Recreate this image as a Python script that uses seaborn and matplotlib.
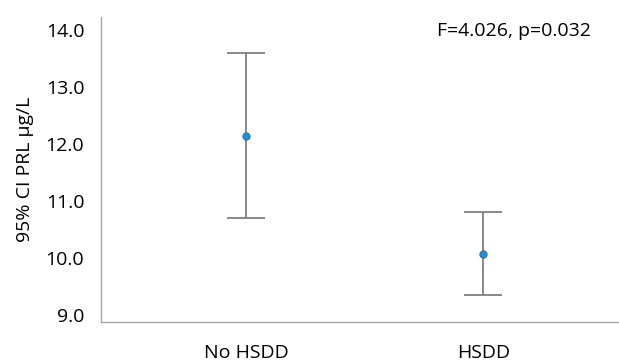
import pandas as pd
import matplotlib.pyplot as plt
import seaborn as sns

groups = ["No HSDD", "HSDD"]
means = [12.15, 10.08]
ci_low = [10.70, 9.35]
ci_high = [13.60, 10.82]
y_ticks = [9.0, 10.0, 11.0, 12.0, 13.0, 14.0]

df = pd.DataFrame({"group": groups, "mean": means, "lo": ci_low, "hi": ci_high})

sns.set_style("white")
plt.rcParams["font.family"] = ["Open Sans", "DejaVu Sans"]
plt.rcParams["text.color"] = "#000000"
plt.rcParams["xtick.color"] = "#000000"
plt.rcParams["ytick.color"] = "#000000"
plt.rcParams["axes.labelcolor"] = "#000000"

fig = plt.figure(figsize=(6.19, 3.62), dpi=100)
ax = fig.add_axes([0.163, 0.110, 0.835, 0.843])

x = list(range(len(df)))
ax.errorbar(x, df["mean"],
            yerr=[df["mean"] - df["lo"], df["hi"] - df["mean"]],
            fmt="none", ecolor="#7f7f7f", elinewidth=1.3, capsize=14, capthick=1.3, zorder=2)
sns.scatterplot(x=x, y=df["mean"], ax=ax, color="#1e8fe0", edgecolor="#2f5f8a",
                s=28, linewidth=0.6, zorder=3, legend=False)

ax.set_xlim(-0.613, 1.567)
ax.set_ylim(8.88, 14.23)
ax.set_xticks(x)
ax.set_xticklabels(groups, fontsize=14)
ax.set_yticks(y_ticks)
ax.set_yticklabels([f"{v:.1f}" for v in y_ticks], fontsize=14)
ax.tick_params(axis="x", length=0, pad=16)
ax.tick_params(axis="y", length=0, pad=12)
ax.set_ylabel("95% CI PRL µg/L", fontsize=14, labelpad=8)

for s in ["top", "right"]:
    ax.spines[s].set_visible(False)
for s in ["left", "bottom"]:
    ax.spines[s].set_color("#a6a6a6")
    ax.spines[s].set_linewidth(1.0)

ax.text(0.80, 0.985, "F=4.026, p=0.032", transform=ax.transAxes,
        ha="center", va="top", fontsize=14)

fig.savefig("out.png", dpi=100)
